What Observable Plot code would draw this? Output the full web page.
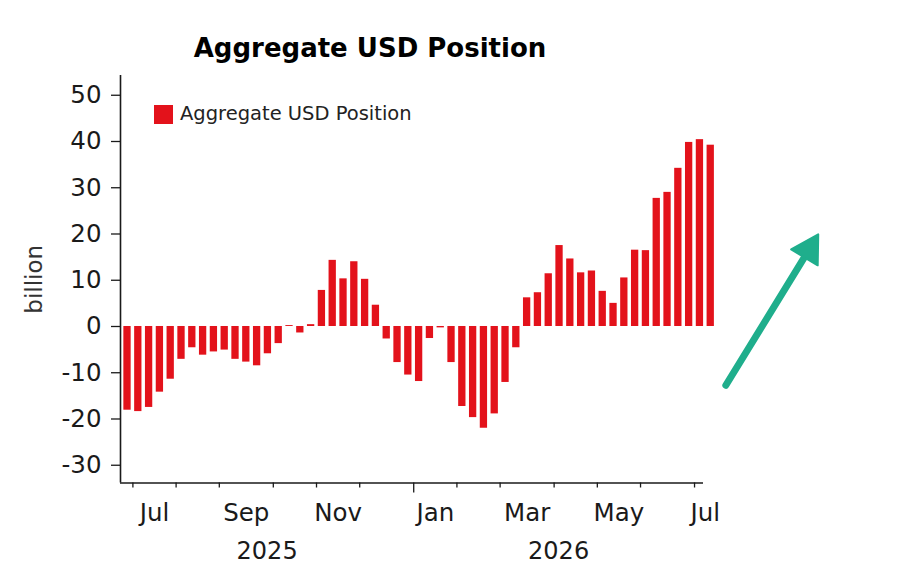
<!DOCTYPE html>
<html>
<head>
<meta charset="utf-8">
<script src="https://cdn.jsdelivr.net/npm/d3@7"></script>
<script src="https://cdn.jsdelivr.net/npm/@observablehq/plot@0.6"></script>
<style>
  html, body { margin: 0; padding: 0; background: #fff; }
  #wrap { position: relative; width: 900px; height: 586px; font-family: "DejaVu Sans", sans-serif; color: #1a1a1a; }
  #title { position: absolute; left: 0; top: 35px; width: 740px; text-align: center; font-weight: bold; font-size: 26px; line-height: 26px; color: #000; }
  #legend { position: absolute; left: 154px; top: 104px; display: flex; align-items: center; gap: 7px; font-size: 19.5px; line-height: 20px; color: #222; }
  #legend .sw { width: 19px; height: 19px; background: #e3121b; }
  #chart { position: absolute; left: 0; top: 0; }
</style>
</head>
<body>
<div id="wrap">
  <div id="chart"></div>
  <div id="title">Aggregate USD Position</div>
  <div id="legend"><div class="sw"></div><span>Aggregate USD Position</span></div>
</div>
<script>
// Weekly observations (Mondays), first and last week
const firstWeek = "2025-06-30";
const lastWeek = "2026-07-13";
// Aggregate USD position, billion, one value per week
const positions = [
  -18.1, -18.4, -17.5, -14.2, -11.4, -7.1, -4.6, -6.2, -5.5, -5.1,
  -7.1, -7.7, -8.5, -5.9, -3.7, 0.2, -1.4, 0.4, 7.8, 14.3,
  10.3, 14.0, 10.2, 4.6, -2.7, -7.8, -10.5, -11.9, -2.6, -0.3,
  -7.8, -17.3, -19.7, -22.0, -18.9, -12.1, -4.6, 6.2, 7.3, 11.4,
  17.5, 14.6, 11.6, 12.0, 7.6, 5.0, 10.5, 16.5, 16.4, 27.7,
  29.0, 34.2, 39.8, 40.4, 39.2
];
const yTicks = [-30, -20, -10, 0, 10, 20, 30, 40, 50];
const monthNames = ["Jan","Feb","Mar","Apr","May","Jun","Jul","Aug","Sep","Oct","Nov","Dec"];
const seriesName = "Aggregate USD Position";
const yLabel = "billion";
// trend arrow annotation (in week-index / billion units)
const trendArrow = {x1: 56.4, y1: -12.7, x2: 64.1, y2: 16.6};

const weeks = d3.utcMonday.range(new Date(firstWeek + "T00:00Z"), d3.utcDay.offset(new Date(lastWeek + "T00:00Z"), 1));
const data = weeks.map((d, i) => ({i: i + 1, date: d, value: positions[i]}));

const xDomain = [0.352, 54.33];
const yDomain = [-33.84, 54.27];

// month boundaries (between consecutive weeks where month changes)
const boundaries = [];
for (let k = 1; k < data.length; k++) {
  if (data[k].date.getUTCMonth() !== data[k - 1].date.getUTCMonth()) {
    boundaries.push({x: data[k].i - 0.5, year: data[k].date.getUTCMonth() === 0});
  }
}
// month label positions: mean index of weeks in each month
const monthGroups = d3.groups(data, d => d.date.getUTCFullYear() * 12 + d.date.getUTCMonth());
const monthLabels = monthGroups
  .map(([key, arr]) => ({m: key % 12, x: d3.mean(arr, d => d.i)}))
  .filter(d => d.m % 2 === 0); // Jan, Mar, May, Jul, Sep, Nov
// year labels: center of visible axis extent of each year
const yearBreak = boundaries.find(b => b.year).x;
const yearLabels = [
  {x: (xDomain[0] + yearBreak) / 2, label: String(weeks[0].getUTCFullYear())},
  {x: (yearBreak + xDomain[1]) / 2, label: String(weeks[weeks.length - 1].getUTCFullYear())}
];

const red = "#e3121b";
const ink = "#1a1a1a";
const teal = "#1fae8c";

const chart = Plot.plot({
  width: 900,
  height: 586,
  marginLeft: 120,
  marginRight: 197,
  marginTop: 75,
  marginBottom: 103.5,
  style: {fontFamily: "DejaVu Sans, sans-serif", fontSize: "24px", color: ink, background: "transparent"},
  x: {type: "linear", domain: xDomain, axis: null},
  y: {domain: yDomain, axis: null},
  marks: [
    Plot.rectY(data, {x1: d => d.i - 0.5, x2: d => d.i + 0.5, y1: 0, y2: "value", fill: red, insetLeft: 1.75, insetRight: 1.75}),
    // y axis
    Plot.axisY({ticks: yTicks, tickSize: 9, tickPadding: 10, tickFormat: d => String(d), fontSize: 24.5, label: null, stroke: ink, strokeWidth: 1.3}),
    Plot.text([yLabel], {frameAnchor: "left", dx: -86, rotate: -90, textAnchor: "middle", lineAnchor: "middle", fontSize: 23, fill: "#333"}),
    // axis lines
    Plot.ruleX([xDomain[0]], {stroke: ink, strokeWidth: 1.6}),
    Plot.ruleY([yDomain[0]], {stroke: ink, strokeWidth: 1.6}),
    // x month ticks
    Plot.axisX(boundaries.filter(b => !b.year).map(b => b.x), {tickSize: 5, tickFormat: () => "", stroke: ink, strokeWidth: 1.3, label: null}),
    Plot.axisX(boundaries.filter(b => b.year).map(b => b.x), {tickSize: 10, tickFormat: () => "", stroke: ink, strokeWidth: 1.3, label: null}),
    // month labels
    Plot.text(monthLabels, {x: "x", y: yDomain[0], text: d => monthNames[d.m], dy: 30, lineAnchor: "middle", fontSize: 24.5, fill: ink}),
    // year labels
    Plot.text(yearLabels, {x: "x", y: yDomain[0], text: "label", dy: 68, lineAnchor: "middle", fontSize: 24, fill: ink}),
    // trend arrow
    Plot.link([trendArrow], {x1: "x1", y1: "y1", x2: "x2", y2: "y2", stroke: teal, strokeWidth: 7, strokeLinecap: "round"}),
    Plot.dot([trendArrow], {x: "x2", y: "y2", symbol: "triangle", r: 11.5, fill: teal, stroke: teal, strokeWidth: 2, strokeLinejoin: "round", rotate: 31})
  ]
});
document.getElementById("chart").appendChild(chart);
</script>
</body>
</html>
